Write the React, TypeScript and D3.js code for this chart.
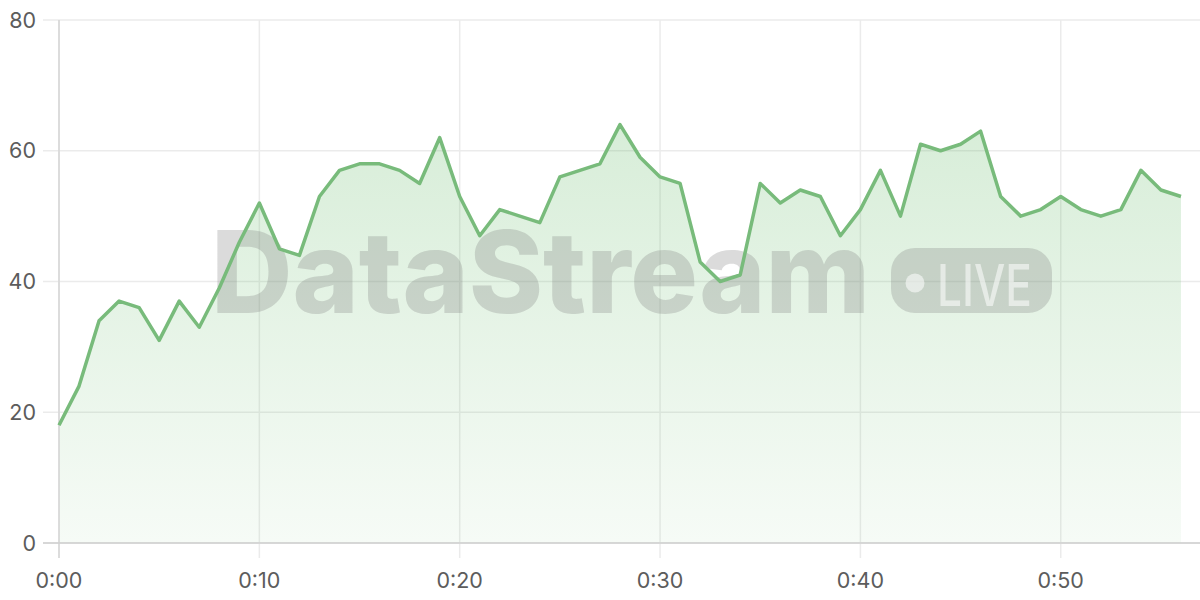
import React from "react";
import * as d3 from "d3";

const seconds: number[] = Array.from({ length: 57 }, (_, i) => i);
const values: number[] = [
  18, 24, 34, 37, 36, 31, 37, 33, 39, 46,
  52, 45, 44, 53, 57, 58, 58, 57, 55, 62,
  53, 47, 51, 50, 49, 56, 57, 58, 64, 59,
  56, 55, 43, 40, 41, 55, 52, 54, 53, 47,
  51, 57, 50, 61, 60, 61, 63, 53, 50, 51,
  53, 51, 50, 51, 57, 54, 53,
];
const xTicks: number[] = [0, 10, 20, 30, 40, 50];
const yTicks: number[] = [0, 20, 40, 60, 80];
const watermark = "DataStream";
const badgeText = "LIVE";

const W = 1200;
const H = 600;
const M = { left: 59, right: 1, top: 20, bottom: 57 };

const fmt = (s: number) => `${Math.floor(s / 60)}:${String(s % 60).padStart(2, "0")}`;

export default function App() {
  const x = d3.scaleLinear().domain([0, 57]).range([M.left, W - M.right + 2]);
  const y = d3.scaleLinear().domain([0, 80]).range([H - M.bottom, M.top]);
  const data = seconds.map((s, i) => ({ s, v: values[i] }));
  const line = d3.line<{ s: number; v: number }>().x((d) => x(d.s)).y((d) => y(d.v));
  const area = d3
    .area<{ s: number; v: number }>()
    .x((d) => x(d.s))
    .y0(y(0))
    .y1((d) => y(d.v));
  const font = "Inter, 'Noto Sans', sans-serif";
  const x0 = M.left;
  const x1 = W;
  const yb = y(0);

  return (
    <svg width={W} height={H} style={{ position: "absolute", left: 0, top: 0 }}>
      <defs>
        <linearGradient id="fillGrad" x1="0" y1="0" x2="0" y2="1">
          <stop offset="0%" stopColor="#4caf50" stopOpacity={0.22} />
          <stop offset="100%" stopColor="#4caf50" stopOpacity={0.05} />
        </linearGradient>
      </defs>
      <rect width={W} height={H} fill="#fff" />
      {yTicks.map((t) => (
        <line key={"gy" + t} x1={43} x2={x1} y1={y(t)} y2={y(t)} stroke="#ebebeb" strokeWidth={1.5} />
      ))}
      {xTicks.map((t) => (
        <line key={"gx" + t} x1={x(t)} x2={x(t)} y1={M.top} y2={yb + 15} stroke="#ebebeb" strokeWidth={1.5} />
      ))}
      <path d={area(data) || ""} fill="url(#fillGrad)" />
      <g>
        <text
          x={211}
          y={313}
          fontFamily={font}
          fontWeight={800}
          fontSize={114}
          textLength={659}
          lengthAdjust="spacingAndGlyphs"
          fill="#7a7a7a"
          fillOpacity={0.27}
        >
          {watermark}
        </text>
        <rect x={891} y={248} width={161} height={65} rx={24} fill="#7a7a7a" fillOpacity={0.27} />
        <circle cx={915} cy={283} r={9.5} fill="#fff" fillOpacity={0.55} />
        <text
          x={937}
          y={305.5}
          fontFamily={font}
          fontWeight={500}
          fontSize={57}
          textLength={95}
          lengthAdjust="spacingAndGlyphs"
          fill="#fff"
          fillOpacity={0.55}
        >
          {badgeText}
        </text>
      </g>
      <line x1={x0} x2={x0} y1={M.top} y2={yb + 15} stroke="#d6d6d6" strokeWidth={1.5} />
      <line x1={43} x2={x1} y1={yb} y2={yb} stroke="#cfcfcf" strokeWidth={1.5} />
      <path d={line(data) || ""} fill="none" stroke="#78bb7b" strokeWidth={3.5} strokeLinejoin="round" />
      {yTicks.map((t) => (
        <text
          key={"ly" + t}
          x={36}
          y={y(t)}
          dy="0.36em"
          textAnchor="end"
          fontFamily={font}
          fontSize={21.5}
          fill="#5c5c5c"
        >
          {t}
        </text>
      ))}
      {xTicks.map((t) => (
        <text
          key={"lx" + t}
          x={x(t)}
          y={587.5}
          textAnchor="middle"
          fontFamily={font}
          fontSize={21.5}
          fill="#5c5c5c"
        >
          {fmt(t)}
        </text>
      ))}
    </svg>
  );
}
